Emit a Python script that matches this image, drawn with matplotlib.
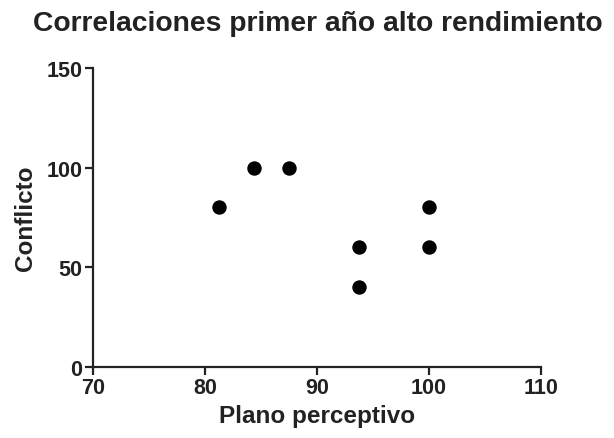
import matplotlib
matplotlib.use("Agg")
import matplotlib.pyplot as plt

plt.rcParams["font.family"] = ["Liberation Sans", "DejaVu Sans"]
plt.rcParams["font.weight"] = "bold"

# data
plano = [81.25, 84.4, 87.5, 93.75, 93.75, 100, 100]
conflicto = [80, 100, 100, 60, 40, 80, 60]
x_ticks = [70, 80, 90, 100, 110]
y_ticks = [0, 50, 100, 150]

fig = plt.figure(figsize=(6.14, 4.39), dpi=100)
ax = fig.add_axes([0.1515, 0.162, 0.7295, 0.681])

ax.scatter(plano, conflicto, s=88, color="black", zorder=3, clip_on=False)

ax.set_xlim(70, 110)
ax.set_ylim(0, 150)
ax.set_xticks(x_ticks)
ax.set_yticks(y_ticks)

for side in ["top", "right"]:
    ax.spines[side].set_visible(False)
for side in ["left", "bottom"]:
    ax.spines[side].set_linewidth(1.6)
    ax.spines[side].set_color("#222222")

ax.tick_params(width=1.6, length=6, color="#222222", labelsize=15.5,
               labelcolor="#222222", pad=1.5)

ax.set_xlabel("Plano perceptivo", fontsize=17.5, fontweight="bold", color="#222222", labelpad=4)
ax.set_ylabel("Conflicto", fontsize=17.5, fontweight="bold", color="#222222", labelpad=7)
fig.suptitle("Correlaciones primer año alto rendimiento", x=0.517, y=0.975,
             fontsize=20.3, fontweight="bold", color="#222222")

fig.savefig("out.png", dpi=100)
plt.close()
